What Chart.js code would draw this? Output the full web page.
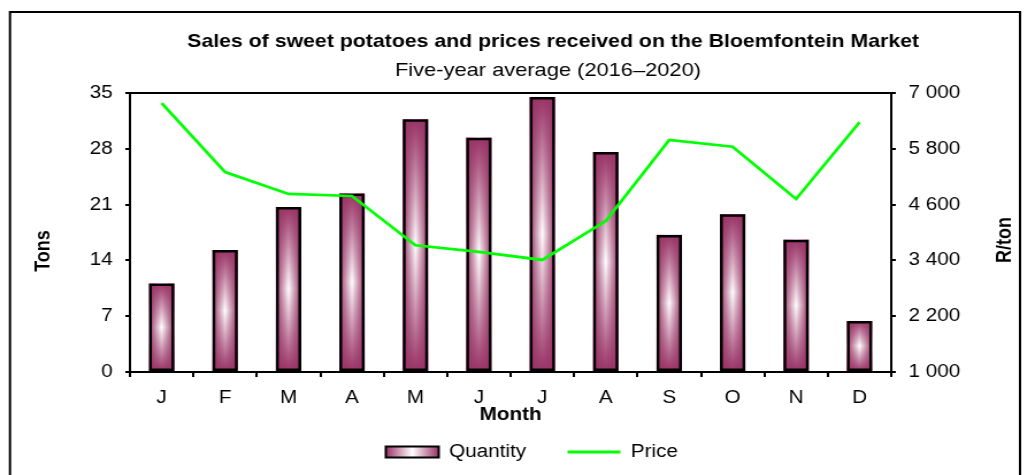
<!DOCTYPE html>
<html>
<head>
<meta charset="utf-8">
<script src="https://cdn.jsdelivr.net/npm/chart.js@4.4.1/dist/chart.umd.min.js"></script>
<style>
html,body{margin:0;padding:0;background:#fff;overflow:hidden;}
#c{display:block;width:893px;height:475px;transform:scaleX(1.15);transform-origin:0 0;}
</style>
</head>
<body>
<canvas id="c" width="893" height="475"></canvas>
<script>
// ---- data ----
const months = ['J','F','M','A','M','J','J','A','S','O','N','D'];
const quantityTons = [11.1, 15.3, 20.7, 22.4, 31.7, 29.4, 34.5, 27.6, 17.2, 19.8, 16.6, 6.4];
const priceRandPerTon = [6780, 5300, 4830, 4785, 3725, 3585, 3410, 4245, 5990, 5845, 4720, 6370];
const tonTicks = [0, 7, 14, 21, 28, 35];
const priceTicks = [1000, 2200, 3400, 4600, 5800, 7000];
const titleText = 'Sales of sweet potatoes and prices received on the Bloemfontein Market';
const subtitleText = 'Five-year average (2016–2020)';
const leftAxisTitle = 'Tons';
const rightAxisTitle = 'R/ton';
const xAxisTitle = 'Month';
const seriesNames = ['Quantity', 'Price'];

const MAROON = '#993366';
const FONT = '"Liberation Sans", Arial, Helvetica, sans-serif';
Chart.defaults.font.family = FONT;
Chart.defaults.font.size = 18;
Chart.defaults.color = '#000';

function fmtSpace(v){ return String(v).replace(/\B(?=(\d{3})+(?!\d))/g, ' '); }

// gradient fill for bars (rectangular "from centre" look)
const barFill = {
  id: 'barFill',
  beforeDatasetDraw(chart, args) {
    if (args.index !== 0) return;
    const ctx = chart.ctx;
    args.meta.data.forEach(el => {
      const p = el.getProps(['x','y','base','width'], true);
      const l = p.x - p.width/2, r = p.x + p.width/2;
      const t = Math.min(p.y, p.base), b = Math.max(p.y, p.base);
      ctx.save();
      const g = ctx.createLinearGradient(l, 0, r, 0);
      g.addColorStop(0, MAROON); g.addColorStop(0.5, '#ffffff'); g.addColorStop(1, MAROON);
      ctx.fillStyle = g; ctx.fillRect(l, t, r-l, b-t);
      const v = ctx.createLinearGradient(0, t, 0, b);
      v.addColorStop(0, 'rgba(153,51,102,1)');
      v.addColorStop(0.5, 'rgba(153,51,102,0)');
      v.addColorStop(1, 'rgba(153,51,102,1)');
      ctx.fillStyle = v; ctx.fillRect(l, t, r-l, b-t);
      ctx.restore();
    });
  }
};

const legendFill = {
  id: 'legendFill',
  beforeDraw(chart) {
    const lg = chart.legend;
    if (!lg || !lg.legendHitBoxes || !lg.legendHitBoxes.length || !lg.legendItems) return;
    const hb = lg.legendHitBoxes[0];
    const bw = lg.options.labels.pointStyleWidth;
    const g = chart.ctx.createLinearGradient(hb.left, 0, hb.left + bw, 0);
    g.addColorStop(0, MAROON); g.addColorStop(0.5, '#ffffff'); g.addColorStop(1, MAROON);
    lg.legendItems[0].fillStyle = g;
  }
};

const decor = {
  id: 'decor',
  afterDraw(chart) {
    const ctx = chart.ctx, a = chart.chartArea;
    ctx.save();
    ctx.strokeStyle = '#000';
    ctx.lineWidth = 2;
    // outer frame
    ctx.strokeRect(8.7, 12, 878.3, 500);
    // plot top border
    ctx.beginPath(); ctx.moveTo(a.left, a.top); ctx.lineTo(a.right, a.top); ctx.stroke();
    // titles
    ctx.fillStyle = '#000';
    ctx.textAlign = 'center'; ctx.textBaseline = 'alphabetic';
    ctx.font = 'bold 18.5px ' + FONT;
    ctx.fillText(titleText, 481, 47);
    ctx.font = '19px ' + FONT;
    ctx.fillText(subtitleText, 476.5, 76);
    // axis titles (rotated, reading bottom-to-top)
    ctx.font = 'bold 18px ' + FONT;
    ctx.textBaseline = 'middle';
    ctx.save(); ctx.translate(38, 251); ctx.rotate(-Math.PI/2); ctx.fillText(leftAxisTitle, 0, 0); ctx.restore();
    ctx.save(); ctx.translate(874, 240); ctx.rotate(-Math.PI/2); ctx.fillText(rightAxisTitle, 0, 0); ctx.restore();
    ctx.restore();
  }
};

const axisGrid = (len) => ({ display: true, drawOnChartArea: false, drawTicks: true, tickLength: len, color: '#000', lineWidth: 2 });
const axisBorder = { display: true, color: '#000', width: 2 };

new Chart(document.getElementById('c'), {
  type: 'bar',
  data: {
    labels: months,
    datasets: [
      {
        type: 'bar', label: seriesNames[0], data: quantityTons, yAxisID: 'y', order: 1,
        backgroundColor: 'rgba(0,0,0,0)', borderColor: '#000', borderWidth: 2.5, borderSkipped: false,
        barPercentage: 0.4, categoryPercentage: 1.0
      },
      {
        type: 'line', label: seriesNames[1], data: priceRandPerTon, yAxisID: 'y1', order: 0,
        borderColor: '#00ff00', backgroundColor: '#00ff00', borderWidth: 2.75,
        pointRadius: 0, tension: 0, fill: false
      }
    ]
  },
  options: {
    responsive: false,
    animation: false,
    events: [],
    layout: { padding: { left: 32, right: 0, top: 93, bottom: 4 } },
    scales: {
      x: {
        grid: Object.assign(axisGrid(5), { offset: true }),
        border: axisBorder,
        ticks: { padding: 10, font: { size: 18 }, color: '#000', maxRotation: 0 },
        title: { display: true, text: xAxisTitle, font: { size: 18, weight: 'bold' }, color: '#000', padding: { top: 0, bottom: -19 } },
        afterFit: s => { s.height = 35; }
      },
      y: {
        position: 'left', min: 0, max: 35,
        grid: axisGrid(4), border: axisBorder,
        ticks: { padding: 11, font: { size: 18 }, color: '#000' },
        afterBuildTicks: s => { s.ticks = tonTicks.map(v => ({ value: v })); },
        afterFit: s => { s.width = 81; }
      },
      y1: {
        position: 'right', min: 1000, max: 7000,
        grid: axisGrid(4), border: axisBorder,
        ticks: { padding: 11, font: { size: 18 }, color: '#000', callback: v => fmtSpace(v) },
        afterBuildTicks: s => { s.ticks = priceTicks.map(v => ({ value: v })); },
        afterFit: s => { s.width = 118; }
      }
    },
    plugins: {
      title: { display: false },
      tooltip: { enabled: false },
      legend: {
        display: true, position: 'bottom', align: 'center',
        labels: {
          usePointStyle: true, pointStyleWidth: 46, boxHeight: 11, padding: 36,
          font: { size: 18 }, color: '#000',
          generateLabels: () => [
            { text: seriesNames[0], datasetIndex: 0, pointStyle: 'rect', fillStyle: '#c890ac', strokeStyle: '#000', lineWidth: 2, hidden: false },
            { text: seriesNames[1], datasetIndex: 1, pointStyle: 'line', fillStyle: '#00ff00', strokeStyle: '#00ff00', lineWidth: 3, hidden: false }
          ]
        }
      }
    }
  },
  plugins: [barFill, legendFill, decor]
});
</script>
</body>
</html>
